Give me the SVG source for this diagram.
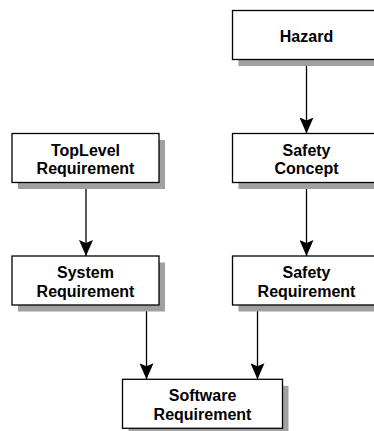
<svg xmlns="http://www.w3.org/2000/svg" width="374" height="431" viewBox="0 0 374 431">
<defs>
<style>
.shadow{fill:#a0a0a0;stroke:none}
.box{fill:#fff;stroke:#000;stroke-width:1.3}
.t{font-family:"Liberation Sans",Arial,sans-serif;font-weight:bold;font-size:16px;text-anchor:middle;fill:#000}
.edge{stroke:#000;stroke-width:1.3;fill:none;marker-end:url(#ah)}
</style>
<marker id="ah" viewBox="0 0 16 14" refX="16" refY="7" markerWidth="16" markerHeight="14" markerUnits="userSpaceOnUse" orient="auto">
<path d="M0,0 L16,7 L0,14 L3,7 Z" fill="#000"/>
</marker>
</defs>
<rect width="374" height="431" fill="#fff"/>
<g id="connectors">
<line class="edge" x1="306.5" y1="59.5" x2="306.5" y2="133.5"/>
<line class="edge" x1="86" y1="182.5" x2="86" y2="256"/>
<line class="edge" x1="306.5" y1="182.5" x2="306.5" y2="256"/>
<line class="edge" x1="146.5" y1="305" x2="146.5" y2="379.3"/>
<line class="edge" x1="257.5" y1="305" x2="257.5" y2="379.3"/>
</g>
<g id="hazard">
<rect class="shadow" x="238.5" y="17" width="148" height="49"/>
<rect class="box" x="232.5" y="10.5" width="148" height="49"/>
<text class="t" x="306.5" y="41.5">Hazard</text>
</g>
<g id="toplevel">
<rect class="shadow" x="18" y="140" width="147" height="49"/>
<rect class="box" x="12" y="133.5" width="147" height="49"/>
<text class="t" x="85.5" y="155.5">TopLevel</text>
<text class="t" x="85.5" y="174">Requirement</text>
</g>
<g id="safetyconcept">
<rect class="shadow" x="238.5" y="140" width="148" height="49"/>
<rect class="box" x="232.5" y="133.5" width="148" height="49"/>
<text class="t" x="306.5" y="155.5">Safety</text>
<text class="t" x="306.5" y="174">Concept</text>
</g>
<g id="system">
<rect class="shadow" x="18" y="262.5" width="147" height="49"/>
<rect class="box" x="12" y="256" width="147" height="49"/>
<text class="t" x="85.5" y="278">System</text>
<text class="t" x="85.5" y="296.5">Requirement</text>
</g>
<g id="safetyreq">
<rect class="shadow" x="238.5" y="262.5" width="148" height="49"/>
<rect class="box" x="232.5" y="256" width="148" height="49"/>
<text class="t" x="306.5" y="278">Safety</text>
<text class="t" x="306.5" y="296.5">Requirement</text>
</g>
<g id="software">
<rect class="shadow" x="128.5" y="385.8" width="160" height="49"/>
<rect class="box" x="122.5" y="379.3" width="160" height="49"/>
<text class="t" x="202.5" y="401.3">Software</text>
<text class="t" x="202.5" y="419.8">Requirement</text>
</g>
</svg>
